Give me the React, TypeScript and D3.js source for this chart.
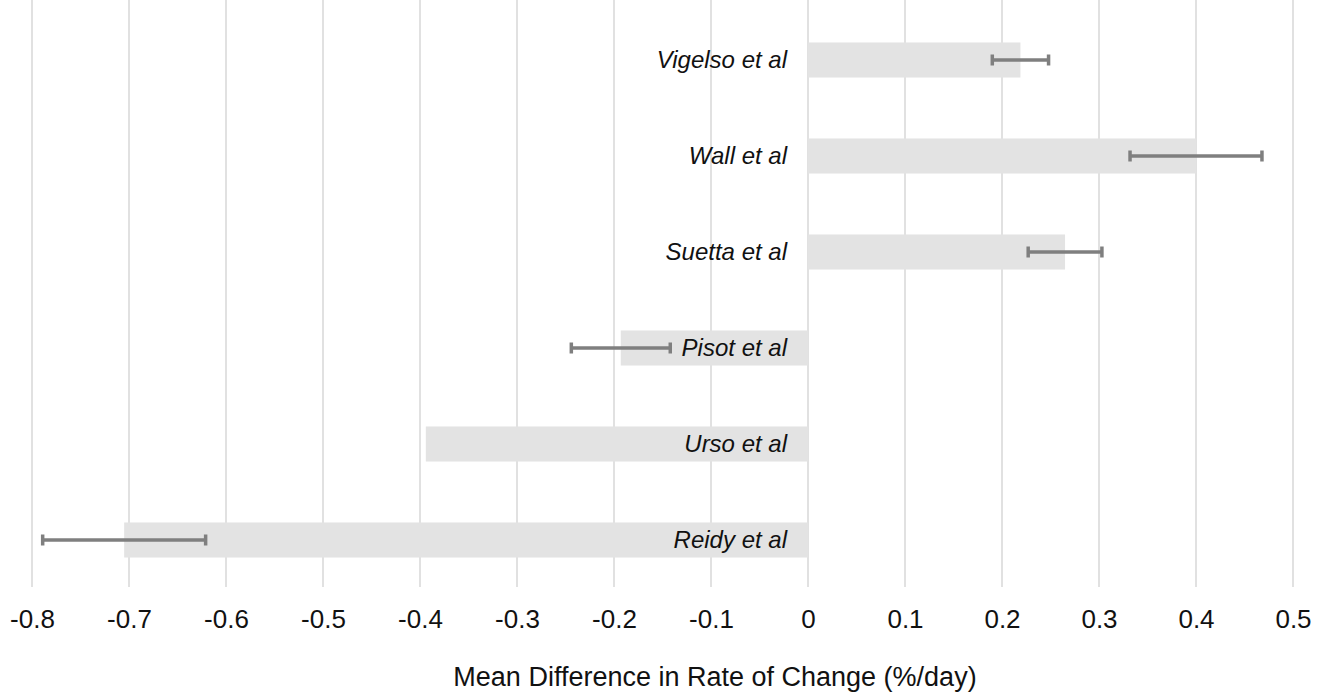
import React, { useEffect, useRef } from 'react';
import * as d3 from 'd3';

// studies, top to bottom
const studies = ['Vigelso et al', 'Wall et al', 'Suetta et al', 'Pisot et al', 'Urso et al', 'Reidy et al'];
// mean difference (%/day)
const meanDiff = [0.219, 0.4, 0.265, -0.193, -0.394, -0.705];
// half-width of error bar, null where none is drawn
const errHalf = [0.029, 0.068, 0.038, 0.051, null, 0.084];
const xTicks = [-0.8, -0.7, -0.6, -0.5, -0.4, -0.3, -0.2, -0.1, 0, 0.1, 0.2, 0.3, 0.4, 0.5];

const W = 1325;
const H = 693;

const App = () => {
  const svgRef = useRef<SVGSVGElement>(null);

  useEffect(() => {
    const svg = d3.select(svgRef.current).attr('width', W).attr('height', H);
    svg.selectAll('*').remove();

    const font = '"Liberation Sans", Arial, sans-serif';

    const x = d3.scaleLinear().domain([-0.8, 0.5]).range([32, 1293]);
    const y = d3.scaleBand().domain(studies).range([12, 588]).paddingInner(0.635).paddingOuter(0.3175);

    // vertical gridlines
    svg.append('g')
      .selectAll('line')
      .data(xTicks)
      .enter()
      .append('line')
      .attr('x1', d => x(d))
      .attr('x2', d => x(d))
      .attr('y1', 0)
      .attr('y2', 587)
      .attr('stroke', '#e1e1e1')
      .attr('stroke-width', 2);

    const rows = studies.map((s, i) => ({ s, v: meanDiff[i], e: errHalf[i] }));

    // bars
    svg.append('g')
      .selectAll('rect')
      .data(rows)
      .enter()
      .append('rect')
      .attr('x', d => x(Math.min(0, d.v)))
      .attr('y', d => y(d.s)!)
      .attr('width', d => Math.abs(x(d.v) - x(0)))
      .attr('height', y.bandwidth())
      .attr('fill', '#e3e3e3');

    // study labels
    svg.append('g')
      .selectAll('text')
      .data(rows)
      .enter()
      .append('text')
      .attr('x', x(0) - 21)
      .attr('y', d => y(d.s)! + y.bandwidth() / 2)
      .attr('dy', '0.35em')
      .attr('text-anchor', 'end')
      .attr('font-family', font)
      .attr('font-style', 'italic')
      .attr('font-size', 24)
      .attr('fill', '#111')
      .text(d => d.s);

    // error bars
    const eb = svg.append('g')
      .attr('stroke', '#7f7f7f')
      .attr('stroke-width', 3.5)
      .attr('fill', 'none');
    const withErr = rows.filter(d => d.e !== null);
    eb.selectAll('line.h')
      .data(withErr)
      .enter()
      .append('line')
      .attr('class', 'h')
      .attr('x1', d => x(d.v - d.e!))
      .attr('x2', d => x(d.v + d.e!))
      .attr('y1', d => y(d.s)! + y.bandwidth() / 2)
      .attr('y2', d => y(d.s)! + y.bandwidth() / 2);
    const caps = withErr.flatMap(d => [
      { s: d.s, v: d.v - d.e! },
      { s: d.s, v: d.v + d.e! },
    ]);
    eb.selectAll('line.cap')
      .data(caps)
      .enter()
      .append('line')
      .attr('class', 'cap')
      .attr('x1', d => x(d.v))
      .attr('x2', d => x(d.v))
      .attr('y1', d => y(d.s)! + y.bandwidth() / 2 - 5.5)
      .attr('y2', d => y(d.s)! + y.bandwidth() / 2 + 5.5);

    // x axis labels
    const axis = svg.append('g')
      .attr('transform', 'translate(0,628)')
      .call(d3.axisBottom(x).tickValues(xTicks).tickSize(0).tickPadding(0).tickFormat(d => String(d)));
    axis.select('.domain').remove();
    axis.selectAll('text')
      .attr('dy', 0)
      .attr('font-family', font)
      .attr('font-size', 26)
      .attr('fill', '#111');

    svg.append('text')
      .attr('x', 715)
      .attr('y', 686)
      .attr('text-anchor', 'middle')
      .attr('font-family', font)
      .attr('font-size', 27)
      .attr('fill', '#111')
      .text('Mean Difference in Rate of Change (%/day)');
  }, []);

  return <svg ref={svgRef} style={{ position: 'absolute', left: 0, top: 0 }}></svg>;
};

export default App;
